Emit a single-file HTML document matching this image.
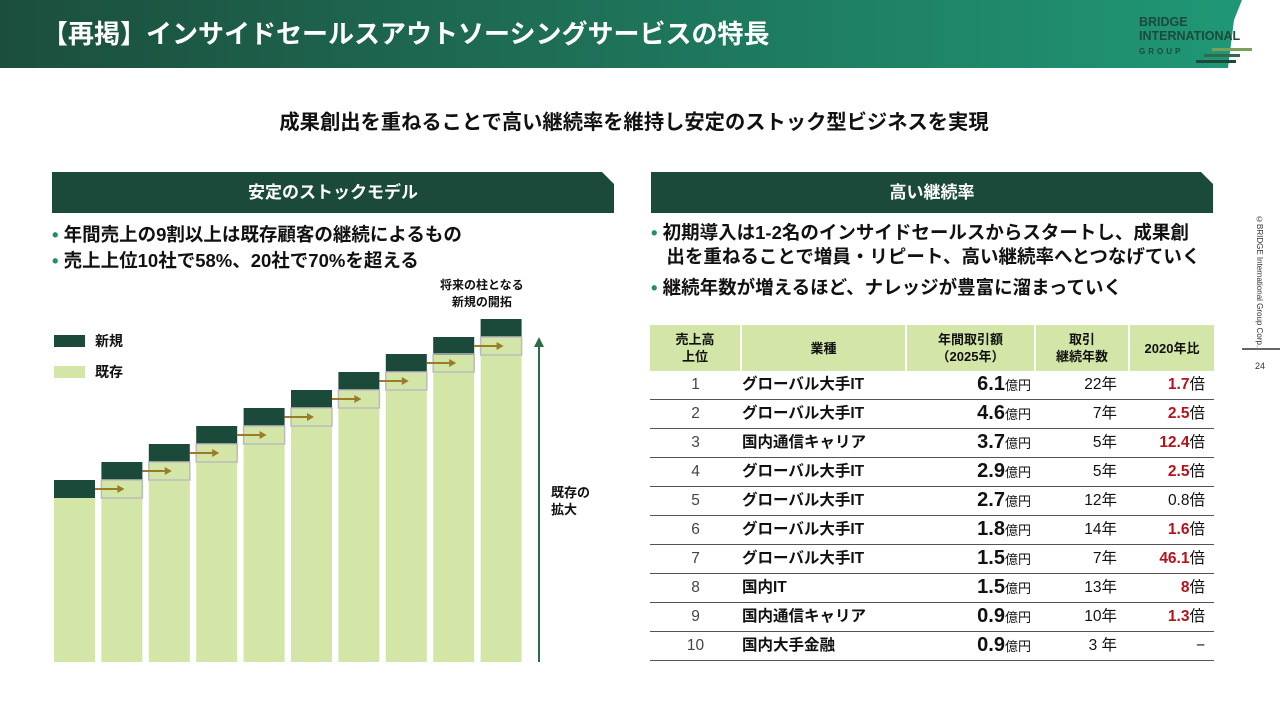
<!DOCTYPE html>
<html><head><meta charset="utf-8">
<style>
body{margin:0;width:1280px;height:720px;position:relative;overflow:hidden;background:#fff;font-family:"Liberation Sans","Noto Sans CJK JP",sans-serif;color:#111}
.abs{position:absolute}
.sec{position:absolute;top:172px;height:41px;background:#1b4a3b;color:#fff;font-weight:bold;font-size:17px;line-height:41px;text-align:center;clip-path:polygon(0 0,calc(100% - 12px) 0,100% 12px,100% 100%,0 100%)}
.bul{position:absolute;font-size:18.5px;font-weight:bold;line-height:26px;white-space:nowrap}
.bul span{color:#1f8f6e}
table{border-collapse:collapse;font-size:15.5px;table-layout:fixed}
td{height:28px;border-bottom:1.5px solid #555;padding:0 6px;white-space:nowrap;vertical-align:middle;line-height:20px}
th{background:#d3e6a8;font-size:13px;font-weight:bold;height:46px;border-right:2px solid #fff;line-height:17px}
.big{font-size:20px;font-weight:bold}
.red{color:#b5121b;font-weight:bold}
</style></head><body>
<div class="abs" style="left:0;top:0;width:1280px;height:68px;background:linear-gradient(90deg,#1c4e3d,#1f8a6b 80%,#1f9a78);clip-path:polygon(0 0,1242px 0,1234px 20px,1228px 68px,0 68px)"></div>
<div class="abs" style="left:42px;top:14px;color:#fff;font-size:26px;font-weight:bold">【再掲】インサイドセールスアウトソーシングサービスの特長</div>
<div class="abs" style="left:1137px;top:15px;font-size:12.5px;font-weight:bold;color:#1b4a3b;line-height:14px;padding:0 2px">BRIDGE<br>INTERNATIONAL<br><span style="font-size:8px;letter-spacing:3px">GROUP</span></div>
<div class="abs" style="left:1212px;top:48px;width:40px;height:3px;background:#7aa05a"></div>
<div class="abs" style="left:1204px;top:54px;width:36px;height:3px;background:#2e6b4b"></div>
<div class="abs" style="left:1196px;top:60px;width:40px;height:3px;background:#1b4a3b"></div>
<div class="abs" style="left:0;width:1268px;top:105px;text-align:center;font-size:20.3px;font-weight:bold">成果創出を重ねることで高い継続率を維持し安定のストック型ビジネスを実現</div>
<div class="sec" style="left:52px;width:562px">安定のストックモデル</div>
<div class="sec" style="left:651px;width:562px">高い継続率</div>
<div class="bul" style="left:52px;top:222px"><span>•</span> 年間売上の9割以上は既存顧客の継続によるもの<br><span>•</span> 売上上位10社で58%、20社で70%を超える</div>
<div class="bul" style="left:651px;top:221px;width:560px;line-height:24px"><span>•</span> 初期導入は1-2名のインサイドセールスからスタートし、成果創<br>&nbsp;&nbsp;&nbsp;出を重ねることで増員・リピート、高い継続率へとつなげていく<br><div style="height:7px"></div><span>•</span> 継続年数が増えるほど、ナレッジが豊富に溜まっていく</div>
<div class="abs" style="left:440px;top:277px;font-size:12px;font-weight:bold;text-align:center;line-height:17px">将来の柱となる<br>新規の開拓</div>
<div class="abs" style="left:551px;top:484px;font-size:13px;font-weight:bold;line-height:17px">既存の<br>拡大</div>
<svg class="abs" style="left:0;top:0" width="1280" height="720" id="chart">
<rect x="54" y="335" width="31" height="12" fill="#1b4a3b"/>
<text x="95" y="346" font-size="14" font-weight="bold" fill="#111">新規</text>
<rect x="54" y="366" width="31" height="12" fill="#d3e6a8"/>
<text x="95" y="377" font-size="14" font-weight="bold" fill="#111">既存</text>
<line x1="539" y1="662" x2="539" y2="345" stroke="#2e6b4b" stroke-width="2"/>
<polygon points="534,347 544,347 539,337" fill="#2e6b4b"/>
</svg>
<script>
const categories=[1,2,3,4,5,6,7,8,9,10];
const existingValues=[164,182,200,218,236,254,272,290,307,325];
const newValues=[18,18,18,18,18,18,18,18,18,18];
const svg=document.getElementById('chart');
const NS='http://www.w3.org/2000/svg';
const x0=54,pitch=47.4,bw=41,base=662;
const xs=i=>x0+i*pitch;
const ys=v=>base-v;
function mk(t,a){const e=document.createElementNS(NS,t);for(const k in a)e.setAttribute(k,a[k]);svg.appendChild(e);return e;}
categories.forEach((c,i)=>{
  const ex=existingValues[i],nw=newValues[i];
  const r=mk('rect',{x:xs(i),y:ys(ex),width:bw,height:ex,fill:'#d3e6a8'});
  
  
  const d=mk('rect',{x:xs(i),y:ys(ex+nw),width:bw,height:nw,fill:'#1b4a3b'});
  
  
  if(i>0){
    const pe=existingValues[i-1]+newValues[i-1];
    const o=mk('rect',{x:xs(i),y:ys(pe),width:bw,height:newValues[i-1],fill:'none',stroke:'#bbb','stroke-width':1.5});
    
    
    const ay=ys(existingValues[i-1]+newValues[i-1]/2);
    const l=mk('line',{x1:xs(i-1)+bw,y1:ay,x2:xs(i)+17,y2:ay,stroke:'#9a7b2a','stroke-width':2});
    
    
    mk('polygon',{points:`${xs(i)+16},${ay-4} ${xs(i)+16},${ay+4} ${xs(i)+23},${ay}`,fill:'#9a7b2a'});
  }
});
</script>
<table class="abs" style="left:650px;top:325px;width:564px">
<tr><th style="width:90px;padding:0">売上高<br>上位</th><th style="width:163px;padding:0">業種</th><th style="width:127px;padding:0">年間取引額<br>（2025年）</th><th style="width:92px;padding:0">取引<br>継続年数</th><th style="border-right:none;padding:0">2020年比</th></tr>
<tbody id="tb"></tbody></table>
<script>
const ranks=[1,2,3,4,5,6,7,8,9,10];
const industries=['グローバル大手IT','グローバル大手IT','国内通信キャリア','グローバル大手IT','グローバル大手IT','グローバル大手IT','グローバル大手IT','国内IT','国内通信キャリア','国内大手金融'];
const amounts=['6.1','4.6','3.7','2.9','2.7','1.8','1.5','1.5','0.9','0.9'];
const years=['22','7','5','5','12','14','7','13','10','3 '];
const ratios=['1.7','2.5','12.4','2.5','0.8','1.6','46.1','8','1.3','−'];
const ratioRed=[1,1,1,1,0,1,1,1,1,0];
const tb=document.getElementById('tb');
ranks.forEach((r,i)=>{
  const tr=document.createElement('tr');
  
  
  const rc=ratios[i]==='−'?'−':(ratioRed[i]?`<span class="red">${ratios[i]}</span>倍`:`${ratios[i]}倍`);
  tr.innerHTML=`<td style="text-align:center;color:#444">${r}</td><td style="font-weight:bold;padding-left:1px">${industries[i]}</td><td style="text-align:right;padding-right:4px"><span class="big">${amounts[i]}</span><span style="font-size:13px">億円</span></td><td style="text-align:right;padding-right:12px">${years[i]}年</td><td style="text-align:right;padding-right:9px">${rc}</td>`;
  tb.appendChild(tr);
});
</script>
<div class="abs" style="left:1255px;top:215px;writing-mode:vertical-rl;font-size:8px;color:#333">©BRIDGE International Group Corp.</div>
<div class="abs" style="left:1242px;top:348px;width:38px;height:1.5px;background:#666"></div>
<div class="abs" style="left:1255px;top:361px;font-size:9px;color:#333">24</div>
</body></html>
